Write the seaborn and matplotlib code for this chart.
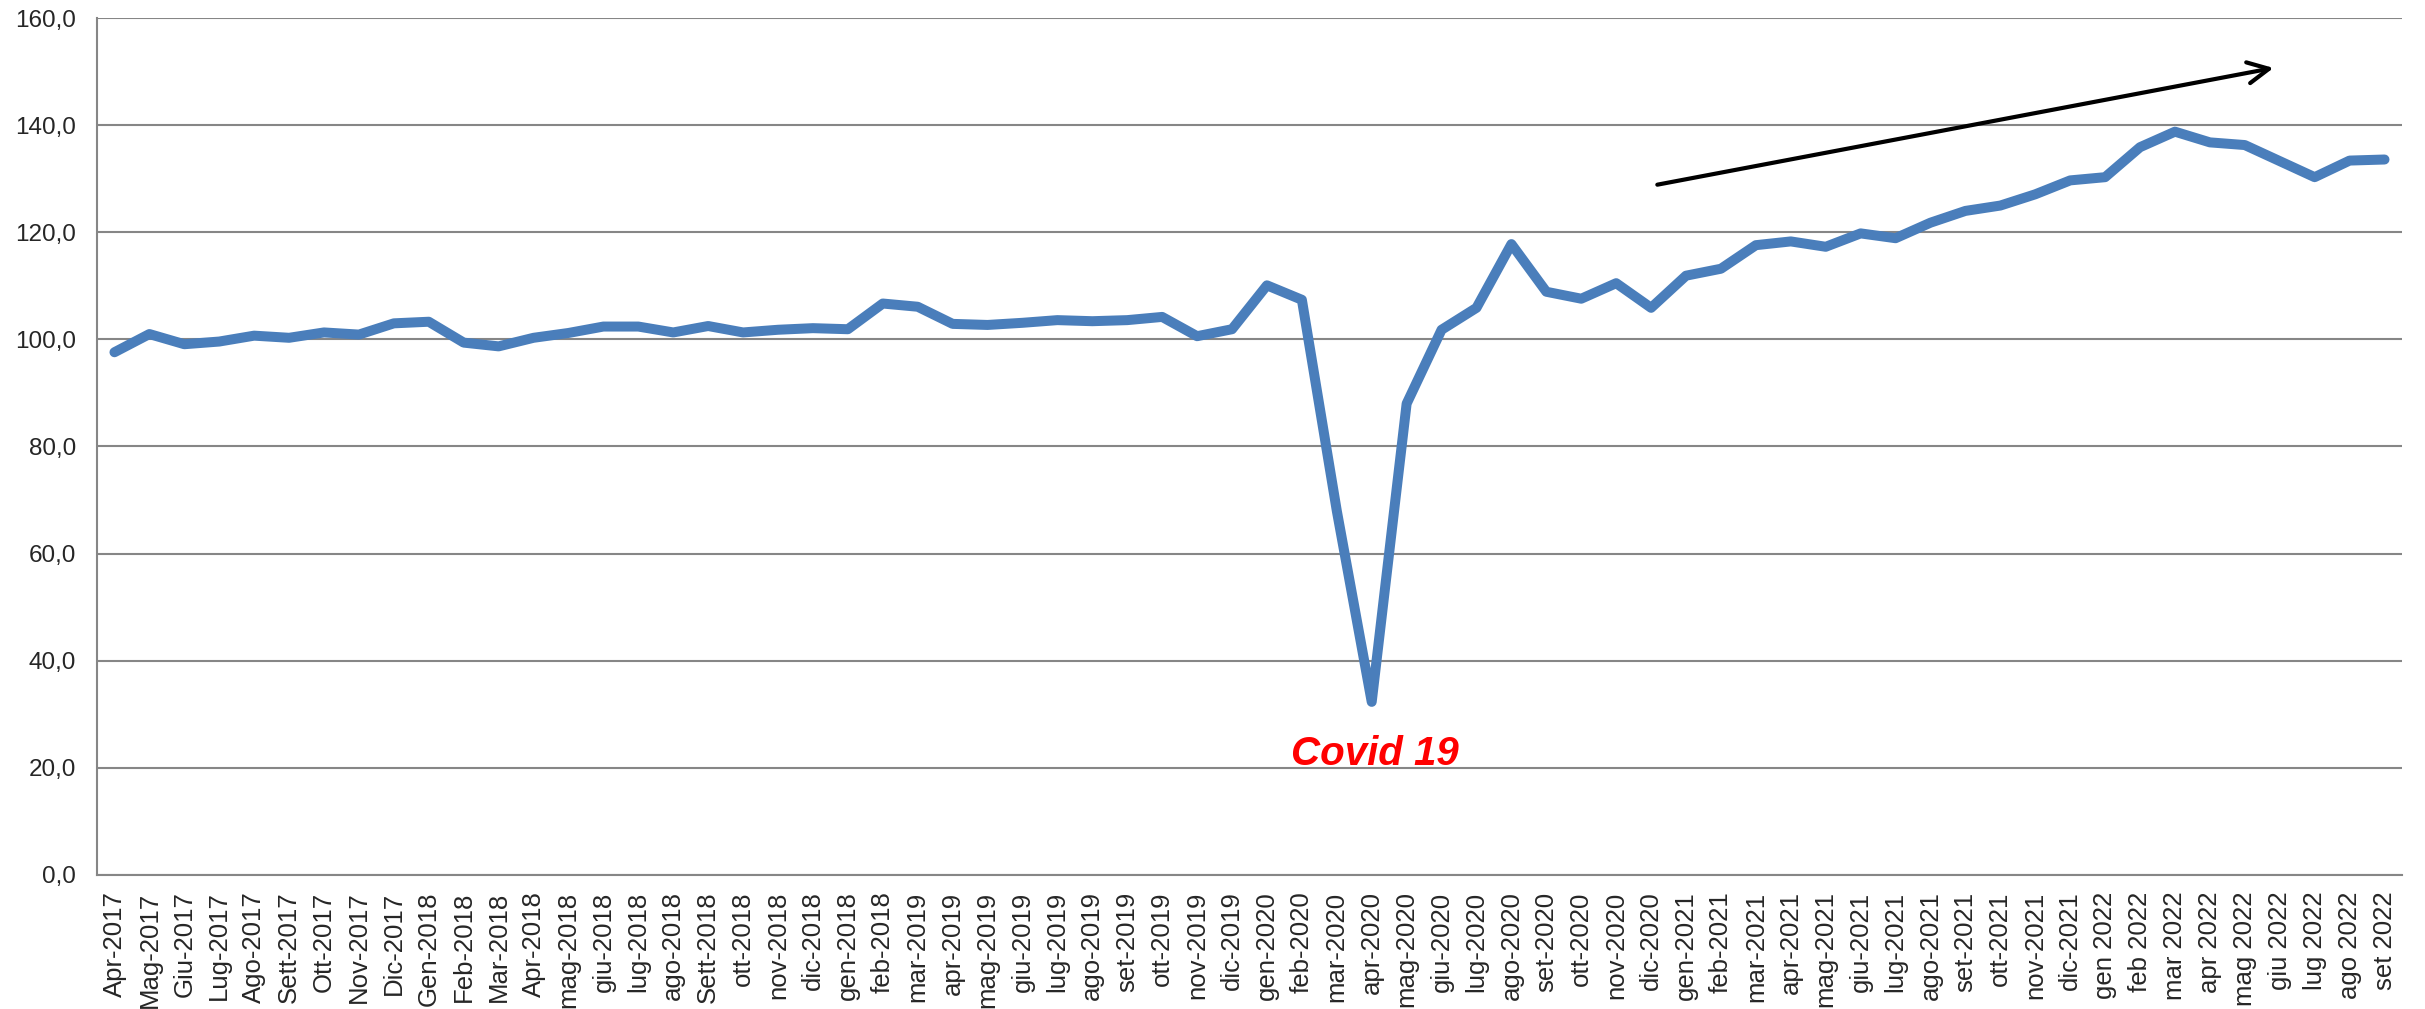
import numpy as np
import pandas as pd
import matplotlib
matplotlib.use("Agg")
import matplotlib.pyplot as plt
import seaborn as sns

# mesi (etichette asse x)
mesi = ["Apr-2017", "Mag-2017", "Giu-2017", "Lug-2017", "Ago-2017", "Sett-2017",
        "Ott-2017", "Nov-2017", "Dic-2017", "Gen-2018", "Feb-2018", "Mar-2018",
        "Apr-2018", "mag-2018", "giu-2018", "lug-2018", "ago-2018", "Sett-2018",
        "ott-2018", "nov-2018", "dic-2018", "gen-2018", "feb-2018", "mar-2019",
        "apr-2019", "mag-2019", "giu-2019", "lug-2019", "ago-2019", "set-2019",
        "ott-2019", "nov-2019", "dic-2019", "gen-2020", "feb-2020", "mar-2020",
        "apr-2020", "mag-2020", "giu-2020", "lug-2020", "ago-2020", "set-2020",
        "ott-2020", "nov-2020", "dic-2020", "gen-2021", "feb-2021", "mar-2021",
        "apr-2021", "mag-2021", "giu-2021", "lug-2021", "ago-2021", "set-2021",
        "ott-2021", "nov-2021", "dic-2021", "gen 2022", "feb 2022", "mar 2022",
        "apr 2022", "mag 2022", "giu 2022", "lug 2022", "ago 2022", "set 2022"]

# valori indice
valori = [97.6, 101.0, 99.1, 99.6, 100.7, 100.3, 101.3, 100.9, 103.0, 103.3,
          99.4, 98.7, 100.3, 101.2, 102.4, 102.4, 101.3, 102.5, 101.3, 101.8,
          102.1, 101.9, 106.7, 106.1, 102.9, 102.7, 103.1, 103.6, 103.4, 103.6,
          104.2, 100.6, 101.9, 110.1, 107.4, 68.0, 32.3, 88.0, 101.8, 105.9,
          117.8, 108.9, 107.6, 110.5, 105.9, 111.9, 113.2, 117.6, 118.3, 117.3,
          119.8, 118.9, 121.8, 124.0, 125.0, 127.1, 129.7, 130.3, 135.9, 138.8,
          136.8, 136.3, 133.3, 130.3, 133.4, 133.6]

y_ticks = [0, 20, 40, 60, 80, 100, 120, 140, 160]

# freccia del trend (posizione mese, valore)
freccia_da = (44.1, 128.8)
freccia_a = (61.9, 150.8)

df = pd.DataFrame({"pos": np.arange(len(mesi)), "valore": valori})

sns.set_style("white")
plt.rcParams['font.family'] = ['Liberation Sans', 'DejaVu Sans']

fig = plt.figure(figsize=(24.25, 10.09), dpi=100)
ax = fig.add_axes([0.040, 0.133, 0.9505, 0.849])

sns.lineplot(data=df, x="pos", y="valore", ax=ax, color="#4A7EBB",
             linewidth=7.2, solid_capstyle="round")

ax.set_xlim(-0.5, len(mesi) - 0.5)
ax.set_ylim(0, 160)
ax.set_yticks(y_ticks)
ax.set_yticklabels([f"{v:.1f}".replace(".", ",") for v in y_ticks], fontsize=17.5)
ax.set_xticks(np.arange(len(mesi)))
ax.set_xticklabels(mesi, rotation=90, fontsize=18.5)
ax.set_xticks(np.arange(len(mesi) + 1) - 0.5, minor=True)
ax.tick_params(axis="x", which="major", length=0, pad=12)
ax.tick_params(axis="x", which="minor", length=9, width=1.5, color="#868686")
ax.tick_params(axis="y", length=9, width=1.5, color="#868686", pad=6)

ax.yaxis.grid(True, color="#868686", linewidth=1.5)
ax.xaxis.grid(False)
ax.set_axisbelow(True)
for s in ["top", "right"]:
    ax.spines[s].set_visible(False)
for s in ["left", "bottom"]:
    ax.spines[s].set_color("#868686")
    ax.spines[s].set_linewidth(1.5)
ax.set_xlabel("")
ax.set_ylabel("")

ax.text(36.1, 20.6, "Covid 19", color="red", fontsize=29, fontweight="bold",
        fontstyle="italic", ha="center", va="baseline")

ax.annotate("", xy=freccia_a, xytext=freccia_da,
            arrowprops=dict(arrowstyle="->", lw=3, color="black", mutation_scale=38))

fig.savefig("out.png", dpi=100)
